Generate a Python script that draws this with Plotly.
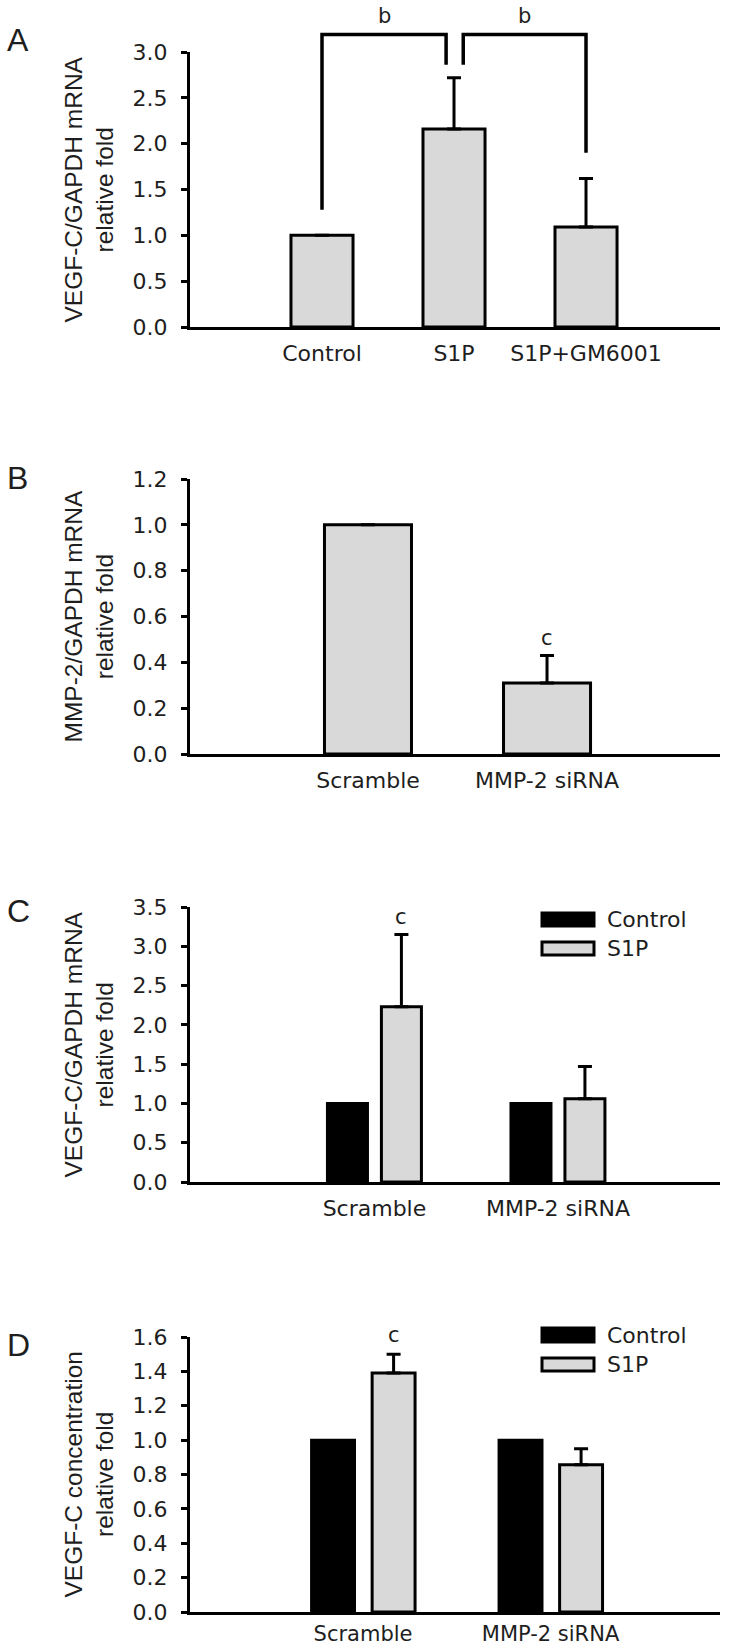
import plotly.graph_objects as go

# ---------------- data ----------------
a_categories = ["Control", "S1P", "S1P+GM6001"]
a_values = [1.0, 2.16, 1.09]
a_err_up = [None, 0.56, 0.53]
a_bracket_left_x = [0, 0, 0.94, 0.94]
a_bracket_left_y = [1.28, 3.19, 3.19, 2.86]
a_bracket_right_x = [1.07, 1.07, 2, 2]
a_bracket_right_y = [2.86, 3.19, 3.19, 1.90]
a_sig_label = "b"
a_sig_y = 3.39

b_categories = ["Scramble", "MMP-2 siRNA"]
b_values = [1.0, 0.31]
b_err_up = [None, 0.12]
b_sig_y = 0.507

cd_categories = ["Scramble", "MMP-2 siRNA"]
c_control = [1.0, 1.0]
c_s1p = [2.23, 1.06]
c_s1p_err_up = [0.92, 0.41]
c_sig_y = 3.37

d_control = [1.0, 1.0]
d_s1p = [1.39, 0.857]
d_s1p_err_up = [0.11, 0.093]
d_sig_y = 1.61

series_names = ["Control", "S1P"]

# ---------------- layout constants (pixels) ----------------
W, H = 729, 1649
X0, X1 = 190, 720
panels = {  # top, bottom pixel of plot area
    "A": (52, 327),
    "B": (479, 754),
    "C": (907, 1182),
    "D": (1337, 1612),
}
GRAY = "#d9d9d9"
TXT = "#1e1e1e"
TICKFONT = dict(family="DejaVu Sans", size=22, color=TXT)
LABFONT = dict(family="DejaVu Sans", size=22, color=TXT)
TITLEFONT = dict(family="Liberation Sans, Arial", size=24.5, color=TXT)


def fx(px):
    return px / W


def fy(px):
    return 1 - px / H


fig = go.Figure()

errstyle = dict(type="data", symmetric=False, color="black", thickness=3, width=7)


def err(arr):
    return dict(errstyle, array=arr, arrayminus=[0] * len(arr))


# Panel A
fig.add_trace(go.Bar(x=a_categories, y=a_values, width=0.47,
                     marker=dict(color=GRAY, line=dict(color="black", width=3)),
                     error_y=err(a_err_up), xaxis="x", yaxis="y", showlegend=False))
# brackets on extended overlay axis
for bx, by in [(a_bracket_left_x, a_bracket_left_y), (a_bracket_right_x, a_bracket_right_y)]:
    fig.add_trace(go.Scatter(x=bx, y=by, mode="lines", line=dict(color="black", width=3.5),
                             xaxis="x5", yaxis="y5", showlegend=False, hoverinfo="skip"))

# Panel B
fig.add_trace(go.Bar(x=b_categories, y=b_values, width=0.486,
                     marker=dict(color=GRAY, line=dict(color="black", width=3)),
                     error_y=err(b_err_up), xaxis="x2", yaxis="y2", showlegend=False))

# Panel C
fig.add_trace(go.Bar(x=cd_categories, y=c_control, width=0.218, offset=-0.256,
                     marker=dict(color="black", line=dict(color="black", width=3)),
                     xaxis="x3", yaxis="y3", showlegend=False, name=series_names[0]))
fig.add_trace(go.Bar(x=cd_categories, y=c_s1p, width=0.218, offset=0.038,
                     marker=dict(color=GRAY, line=dict(color="black", width=3)),
                     error_y=err(c_s1p_err_up), xaxis="x3", yaxis="y3", showlegend=False,
                     name=series_names[1]))

# Panel D
fig.add_trace(go.Bar(x=cd_categories, y=d_control, width=0.229, offset=-0.2745,
                     marker=dict(color="black", line=dict(color="black", width=3)),
                     xaxis="x4", yaxis="y4", showlegend=False, name=series_names[0]))
fig.add_trace(go.Bar(x=cd_categories, y=d_s1p, width=0.229, offset=0.0485,
                     marker=dict(color=GRAY, line=dict(color="black", width=3)),
                     error_y=err(d_s1p_err_up), xaxis="x4", yaxis="y4", showlegend=False,
                     name=series_names[1]))

xdom = [fx(X0), fx(X1)]


def yaxis_cfg(key, ymax, dtick):
    top, bot = panels[key]
    return dict(domain=[fy(bot), fy(top)], range=[0, ymax], dtick=dtick, tick0=0,
                tickformat=".1f", showline=True, linewidth=3, linecolor="black",
                ticks="outside", ticklen=6, tickwidth=3, tickcolor="black",
                showgrid=False, zeroline=False, tickfont=TICKFONT,
                ticklabelstandoff=9, fixedrange=True, automargin=False)


def xaxis_cfg(anchor, rng, standoff=5, size=22):
    return dict(domain=xdom, anchor=anchor, range=rng, type="category",
                showline=True, linewidth=3, linecolor="black", ticks="",
                showgrid=False, zeroline=False, tickfont=dict(LABFONT, size=size),
                ticklabelstandoff=standoff, fixedrange=True, automargin=False)


a_top, a_bot = panels["A"]
a_ppu = (a_bot - a_top) / 3.0
ext_max = a_bot / a_ppu
d_top, d_bot = panels["D"]
d_ppu = (d_bot - d_top) / 1.6

fig.update_layout(
    width=W, height=H,
    margin=dict(l=0, r=0, t=0, b=0, autoexpand=False),
    paper_bgcolor="white", plot_bgcolor="rgba(0,0,0,0)",
    barmode="overlay",
    xaxis=xaxis_cfg("y", [-1.0, 3.015]),
    yaxis=yaxis_cfg("A", 3.0, 0.5),
    xaxis2=xaxis_cfg("y2", [-0.994, 1.966]),
    yaxis2=yaxis_cfg("B", 1.2, 0.2),
    xaxis3=xaxis_cfg("y3", [-1.005, 1.883]),
    yaxis3=yaxis_cfg("C", 3.5, 0.5),
    xaxis4=xaxis_cfg("y4", [-0.923, 1.904], standoff=1, size=21),
    yaxis4=yaxis_cfg("D", 1.6, 0.2),
    xaxis5=dict(domain=xdom, anchor="y5", range=[-1.0, 3.015], visible=False,
                fixedrange=True, automargin=False),
    yaxis5=dict(domain=[fy(a_bot), 1.0], range=[0, ext_max], visible=False,
                fixedrange=True, automargin=False),
)

ann = []
# y-axis titles
titles = {
    "A": "VEGF-C/GAPDH mRNA<br>relative fold",
    "B": "MMP-2/GAPDH mRNA<br>relative fold",
    "C": "VEGF-C/GAPDH mRNA<br>relative fold",
    "D": "VEGF-C concentration<br>relative fold",
}
letter_y = {"A": 40, "B": 478, "C": 911, "D": 1345}
for k, (top, bot) in panels.items():
    ann.append(dict(text=titles[k], x=fx(89), y=fy((top + bot) / 2), xref="paper", yref="paper",
                    textangle=-90, showarrow=False, xanchor="center", yanchor="middle",
                    font=TITLEFONT))
    ann.append(dict(text=k, x=fx(5), y=fy(letter_y[k]), xref="paper", yref="paper",
                    showarrow=False, xanchor="left", yanchor="middle",
                    font=dict(family="Liberation Sans, Arial", size=32, color=TXT)))

# significance letters
sigfont = dict(family="DejaVu Sans", size=21, color=TXT)
for bx in (a_bracket_left_x, a_bracket_right_x):
    ann.append(dict(text=a_sig_label, x=(bx[0] + bx[-1]) / 2, y=a_sig_y, xref="x5", yref="y5",
                    showarrow=False, font=sigfont, yanchor="middle"))
ann.append(dict(text="c", x=1, y=b_sig_y, xref="x2", yref="y2", showarrow=False,
                font=sigfont, yanchor="middle"))
ann.append(dict(text="c", x=0.038 + 0.109, y=c_sig_y, xref="x3", yref="y3", showarrow=False,
                font=sigfont, yanchor="middle"))
# D's label sits at the top edge of the axis range; anchor at range max and shift
ann.append(dict(text="c", x=0.0485 + 0.1145, y=1.6, xref="x4", yref="y4", showarrow=False,
                font=sigfont, yanchor="middle", yshift=(d_sig_y - 1.6) * d_ppu))

# custom legends for C and D
shapes = []
legend_rows = {"C": [(913, 926), (942, 955)], "D": [(1328, 1342), (1358, 1371)]}
fills = ["black", GRAY]
for k, rows in legend_rows.items():
    for (t, b), name, fc in zip(rows, series_names, fills):
        shapes.append(dict(type="rect", xref="paper", yref="paper",
                           x0=fx(542), x1=fx(594), y0=fy(b), y1=fy(t),
                           fillcolor=fc, line=dict(color="black", width=3)))
        ann.append(dict(text=name, x=fx(605), y=fy((t + b) / 2), xref="paper", yref="paper",
                        showarrow=False, xanchor="left", yanchor="middle",
                        font=dict(family="DejaVu Sans", size=22, color=TXT)))

fig.update_layout(annotations=ann, shapes=shapes)
fig.write_html(
    "out.html",
    config={"displayModeBar": False, "staticPlot": True},
    post_script="document.body.style.margin='0';document.body.style.overflow='hidden';",
)
